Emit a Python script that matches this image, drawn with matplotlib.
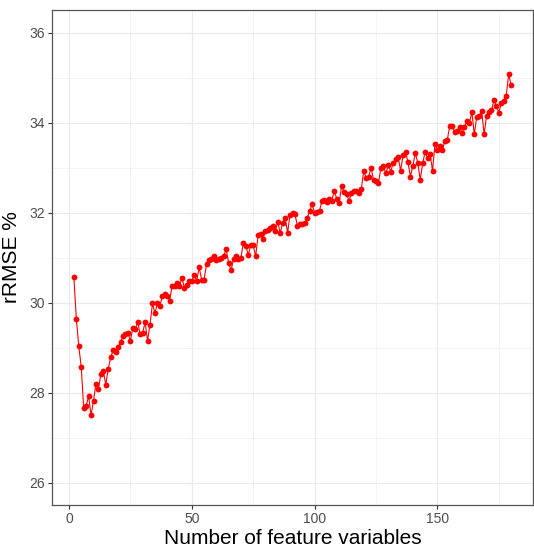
import matplotlib
matplotlib.use("Agg")
import matplotlib.pyplot as plt
import numpy as np
from matplotlib.ticker import MultipleLocator

n_features = list(range(2, 181))

rrmse_2_28 = [30.56, 29.64, 29.03, 28.57, 27.65, 27.70, 27.92, 27.49, 27.82, 28.20,
              28.08, 28.41, 28.47, 28.17, 28.53, 28.78, 28.94, 28.90, 29.01, 29.12,
              29.25, 29.29, 29.33, 29.15, 29.44, 29.41, 29.57]
rrmse_29_59 = [29.29, 29.33, 29.56, 29.15, 29.51, 29.98, 29.76, 29.98, 29.92, 30.14,
               30.20, 30.14, 30.04, 30.37, 30.37, 30.44, 30.37, 30.55, 30.32, 30.39,
               30.47, 30.48, 30.61, 30.48, 30.78, 30.51, 30.51, 30.85, 30.94, 30.97,
               31.03]
rrmse_60_91 = [30.94, 30.97, 31.00, 31.04, 31.18, 30.88, 30.72, 30.96, 31.04, 30.97,
               30.99, 31.33, 31.26, 31.06, 31.27, 31.27, 31.03, 31.49, 31.52, 31.41,
               31.59, 31.62, 31.65, 31.70, 31.59, 31.78, 31.55, 31.76, 31.88, 31.55,
               31.95, 31.99]
rrmse_92_123 = [31.96, 31.70, 31.74, 31.74, 31.76, 31.87, 32.04, 32.18, 32.00, 32.02,
                32.04, 32.26, 32.28, 32.24, 32.30, 32.26, 32.48, 32.31, 32.22, 32.59,
                32.46, 32.41, 32.26, 32.43, 32.47, 32.48, 32.44, 32.53, 32.92, 32.77,
                32.80, 33.00]
rrmse_124_152 = [32.72, 32.70, 32.66, 33.00, 33.04, 32.87, 33.05, 32.91, 33.11, 33.18,
                 33.24, 32.93, 33.27, 33.35, 33.12, 32.80, 33.04, 33.32, 33.10, 32.73,
                 33.10, 33.35, 33.20, 33.30, 32.93, 33.52, 33.39, 33.48, 33.38]
rrmse_153_180 = [33.59, 33.61, 33.92, 33.92, 33.79, 33.81, 33.90, 33.76, 33.91, 34.03,
                 33.98, 34.24, 33.74, 34.13, 34.14, 34.25, 33.74, 34.15, 34.24, 34.27,
                 34.50, 34.37, 34.22, 34.44, 34.48, 34.60, 35.07, 34.83]

rrmse = (rrmse_2_28 + rrmse_29_59 + rrmse_60_91 + rrmse_92_123
         + rrmse_124_152 + rrmse_153_180)

x_label = "Number of feature variables"
y_label = "rRMSE %"
x_ticks = [0, 50, 100, 150]
y_ticks = [26, 28, 30, 32, 34, 36]

plt.rcParams['font.family'] = ['Liberation Sans', 'DejaVu Sans']

fig = plt.figure(figsize=(5.34, 5.47), dpi=100)
ax = fig.add_axes([52/534, 1 - 505/547, 481/534, 495/547])

ax.plot(n_features, rrmse, color='#ff0000', linewidth=0.8, zorder=3)
ax.plot(n_features, rrmse, linestyle='none', marker='o', markersize=4.2,
        color='#ff0000', markeredgewidth=0, zorder=4)

xr = max(n_features) - min(n_features)
ax.set_xlim(min(n_features) - 0.05 * xr, max(n_features) + 0.05 * xr)
ax.set_ylim(26 - 0.5, 36 + 0.5)
ax.set_xticks(x_ticks)
ax.set_yticks(y_ticks)
ax.xaxis.set_minor_locator(MultipleLocator(25))
ax.yaxis.set_minor_locator(MultipleLocator(1))
ax.grid(which='major', color='#ebebeb', linewidth=0.9, zorder=0)
ax.grid(which='minor', color='#f2f2f2', linewidth=0.6, zorder=0)
ax.set_axisbelow(True)
ax.tick_params(which='minor', length=0)
ax.tick_params(which='major', length=3, width=0.8, color='#333333',
               labelsize=10, labelcolor='#4d4d4d', pad=2)
for s in ax.spines.values():
    s.set_color('#555555')
    s.set_linewidth(0.9)

ax.set_xlabel(x_label, fontsize=15, color='black', labelpad=2)
ax.set_ylabel(y_label, fontsize=15, color='black', labelpad=6)

fig.savefig("out.png", dpi=100)
